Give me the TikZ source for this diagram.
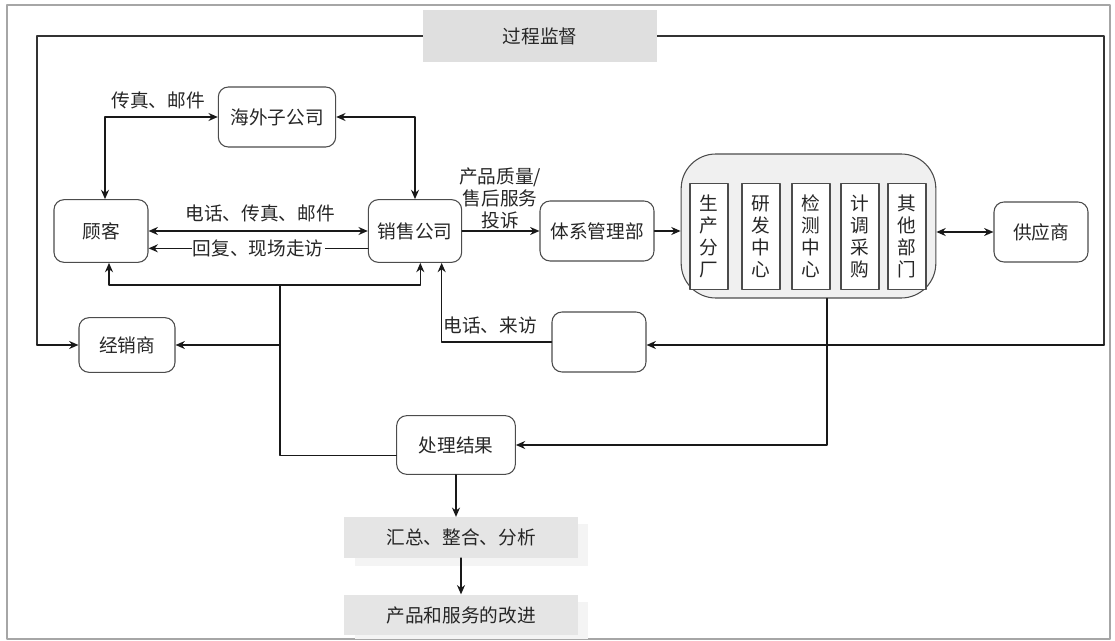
\documentclass[tikz,border=0pt]{standalone}
\usepackage{fontspec}
\setmainfont{Noto Sans CJK SC}
\usetikzlibrary{arrows.meta}
\begin{document}
\begin{tikzpicture}[x=0.75pt, y=-0.75pt, line cap=round, line join=round,
    txt/.style={font=\fontsize{14}{16.5}\selectfont, text=black!85},
    lbl/.style={txt, inner sep=1pt},
    box/.style={txt, draw=black!70, line width=0.8pt, rounded corners=7.5pt, inner sep=2pt},
    dept/.style={txt, draw=black!70, line width=0.8pt, fill=white, minimum width=28.5pt, minimum height=80pt, align=center, inner sep=0pt},
    band/.style={txt, fill=gray!20, minimum width=175pt, minimum height=30.5pt},
    line/.style={line width=1.1pt, black!90},
    arr/.style={line, -{Stealth[length=7pt,width=6pt]}},
    biarr/.style={line, {Stealth[length=7pt,width=6pt]}-{Stealth[length=7pt,width=6pt]}}]
  \useasboundingbox (0,0) rectangle (1115,641);
  \draw[gray!70, line width=0.8pt] (7,5) rectangle (1110,639);
  \coordinate (svL) at (37,345);
  \coordinate (svR) at (1104,345);
  \draw[line width=0.9pt, black!80] (svL) -- (37,36) -- (1104,36) -- (svR);
  \node[txt, fill=gray!25, minimum width=175pt, minimum height=39pt] (jiandu) at (540,36) {过程监督};
  \node[box, minimum width=88pt, minimum height=45pt] (haiwai) at (277,117) {海外子公司};
  \node[box, minimum width=70.5pt, minimum height=47pt] (kehu) at (101,231) {顾客};
  \node[box, minimum width=70pt, minimum height=47pt] (xiaoshou) at (415,231) {销售公司};
  \node[box, minimum width=85.5pt, minimum height=45pt] (tixi) at (597,231) {体系管理部};
  \node[box, minimum width=70.5pt, minimum height=45pt] (gongying) at (1041,232) {供应商};
  \node[box, minimum width=72pt, minimum height=41pt] (jingxiao) at (127,345) {经销商};
  \node[box, minimum width=70.5pt, minimum height=45pt] (kefu) at (599,342) {};
  \node[box, minimum width=89pt, minimum height=44pt] (chuli) at (456,445) {处理结果};
  \node[draw=black!70, line width=0.8pt, fill=gray!12, rounded corners=26pt, minimum width=191pt, minimum height=108pt] (bumen) at (808.5,226) {};
  \foreach \x/\nm/\name in {709/sc/{生\\产\\分\\厂}, 761/yf/{研\\发\\中\\心}, 811/jc/{检\\测\\中\\心}, 860/jd/{计\\调\\采\\购}, 907/qt/{其\\他\\部\\门}}
    \node[dept] (\nm) at (\x,236.5) {\name};
  \fill[gray!9] (355,524) rectangle (588,566);
  \node[band] (huizong) at (461,537.5) {汇总、整合、分析};
  \fill[gray!9] (355,602) rectangle (588,639);
  \node[band] (gaijin) at (461,615) {产品和服务的改进};
  \draw[biarr] (haiwai.west) -| ([xshift=3pt]kehu.north);
  \node[lbl] at (158,100) {传真、邮件};
  \draw[biarr] (haiwai.east) -| (xiaoshou.north);
  \draw[biarr] (kehu.east) -- (xiaoshou.west);
  \node[lbl] at (260,213) {电话、传真、邮件};
  \draw[arr] ([yshift=-13pt]xiaoshou.west) -- node[lbl, fill=white] {回复、现场走访} ([yshift=-13pt]kehu.east);
  \draw[arr] (xiaoshou.east) -- (tixi.west);
  \node[lbl, align=center] at (500,198) {产品质量/\\售后服务\\投诉};
  \draw[arr] (tixi.east) -- (tixi.east -| bumen.west);
  \draw[biarr] (bumen.east |- gongying.west) -- (gongying.west);
  \draw[arr] ([xshift=14pt]bumen.south) |- (chuli.east);
  \coordinate (fb) at (280,285);
  \coordinate (fbj) at (280,345);
  \draw[line] ([yshift=-8pt]chuli.west) -| (fb);
  \draw[arr] (fb) -| ([xshift=6pt]kehu.south);
  \draw[arr] (fb) -| ([xshift=4pt]xiaoshou.south);
  \draw[arr] (fbj) -- (fbj -| jingxiao.east);
  \draw[arr] (kefu.west) -| ([xshift=20pt]xiaoshou.south);
  \node[lbl] at (490,325) {电话、来访};
  \draw[arr] (svL) -- (svL -| jingxiao.west);
  \draw[arr] (svR) -- (svR -| kefu.east);
  \draw[arr] (chuli.south) -- (chuli.south |- huizong.north);
  \draw[arr] (huizong.south) -- (gaijin.north);
\end{tikzpicture}
\end{document}
